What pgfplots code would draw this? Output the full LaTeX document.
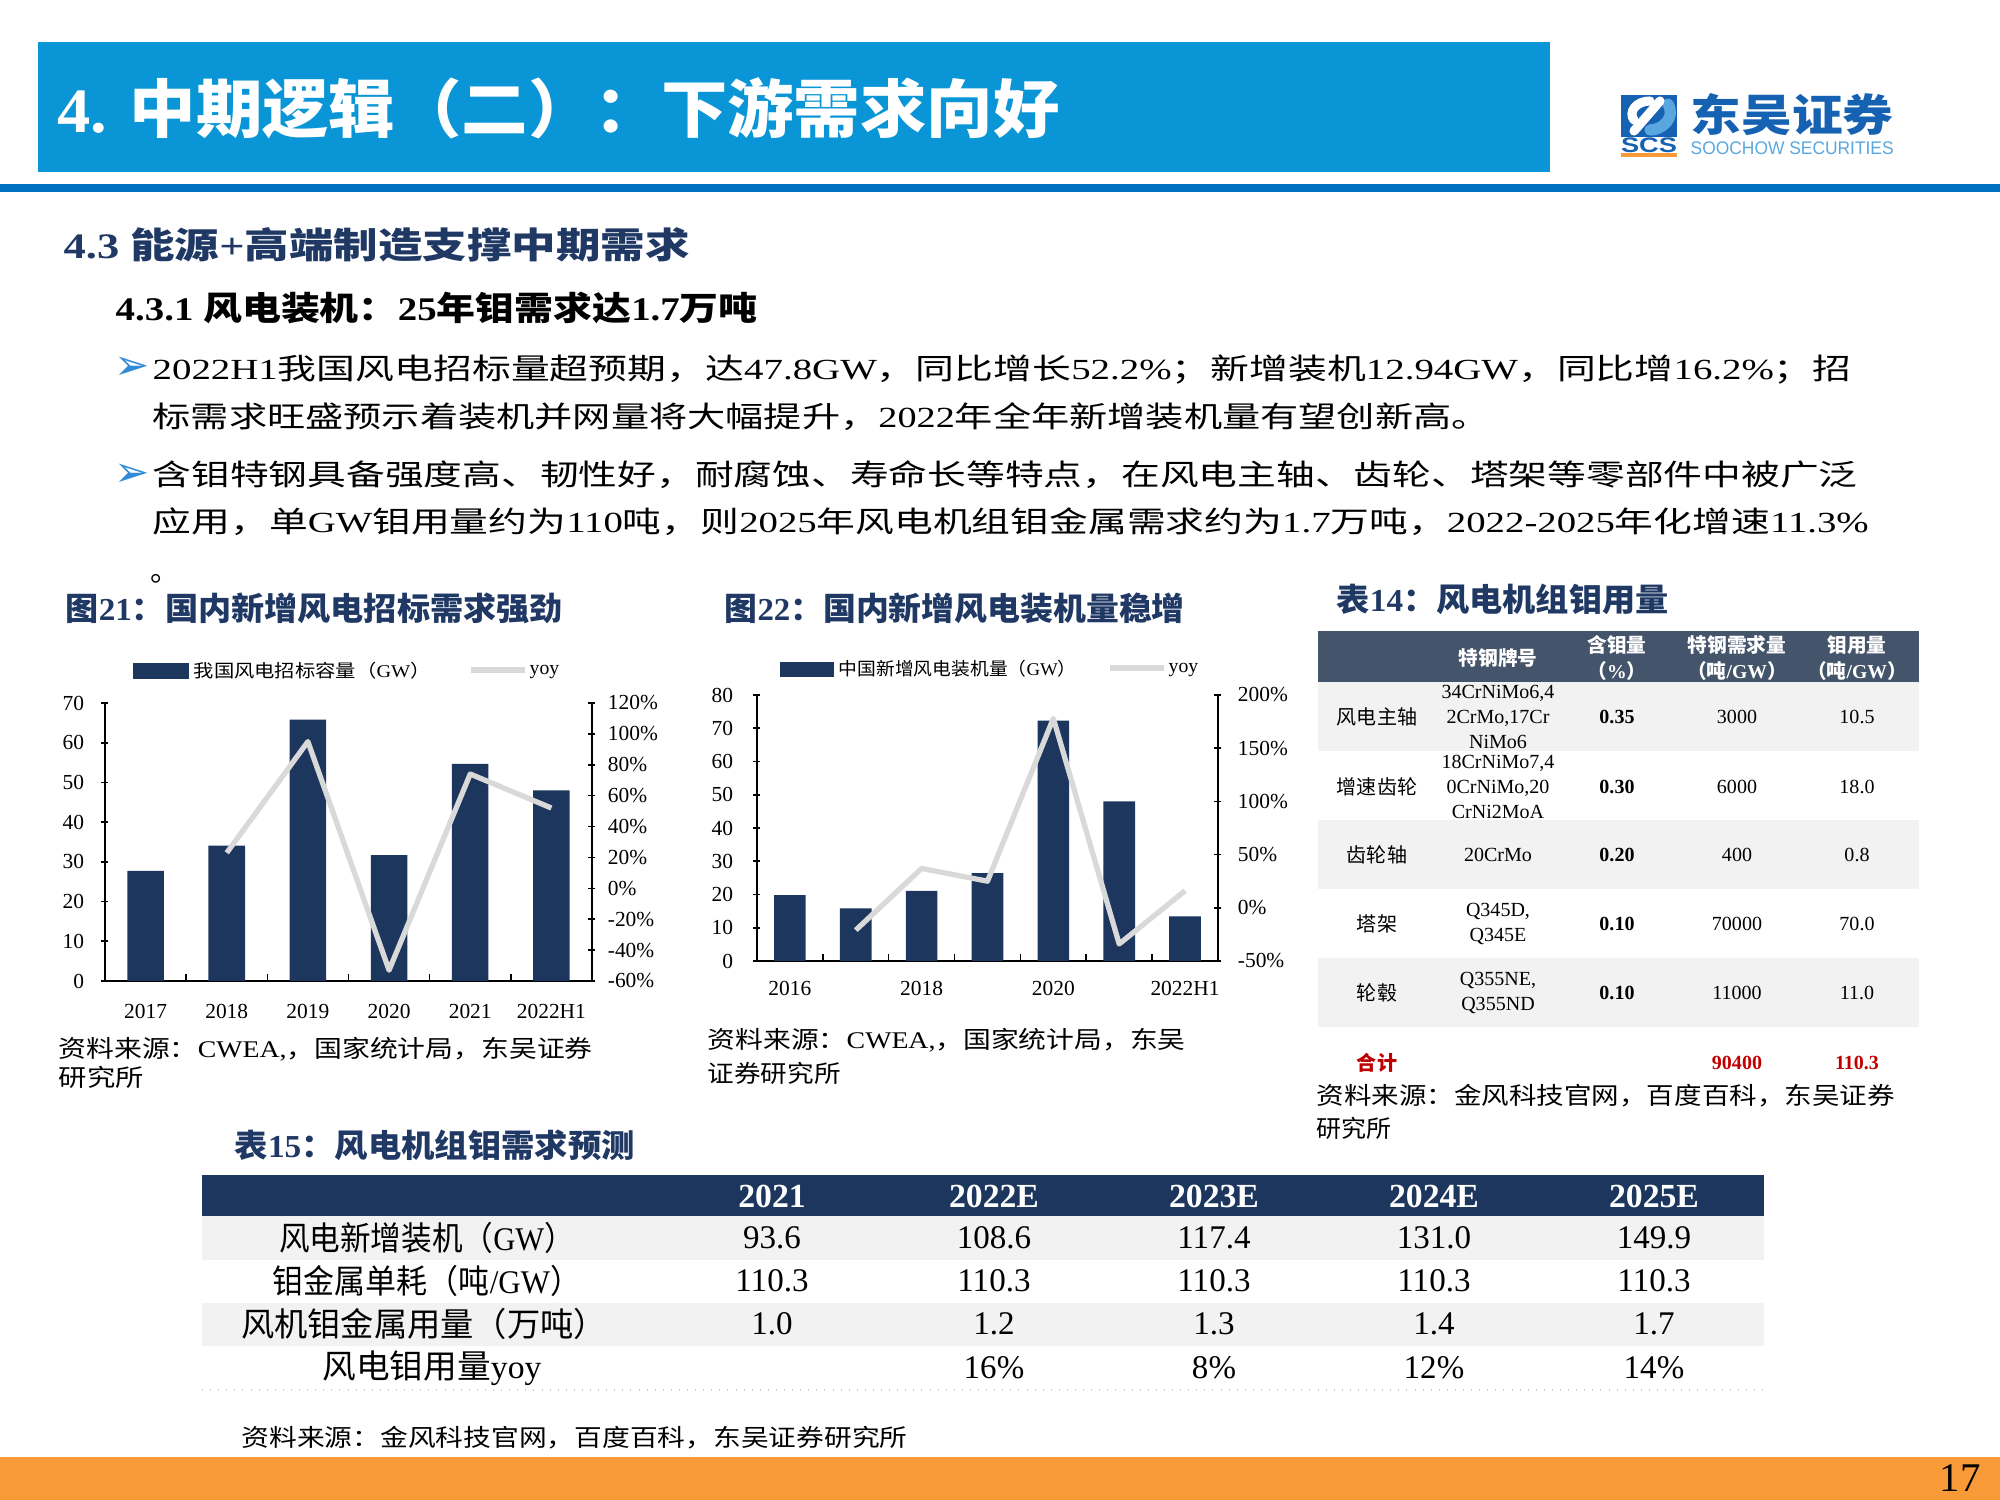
\documentclass[border=0pt]{standalone}
\usepackage{pgfplots}
\pgfplotsset{compat=1.18}
\usepackage{graphicx}
\usepackage{fontspec}
\setmainfont{Liberation Serif}
\newfontfamily\cjk{Noto Sans CJK SC}
\newfontfamily\dejavu{DejaVu Sans}
\newfontfamily\lsans{Liberation Sans}

\XeTeXinterchartokenstate=1
\newXeTeXintercharclass\CJKcls
\makeatletter
\def\setcjkrange#1#2{\count@=#1\relax
  \loop\XeTeXcharclass\count@=\CJKcls\relax
  \ifnum\count@<#2\relax\advance\count@ by 1\relax\repeat}
\makeatother
\setcjkrange{"3000}{"303F}
\setcjkrange{"4E00}{"9FFF}
\setcjkrange{"FF00}{"FFEF}
\XeTeXinterchartoks 0 \CJKcls = {\begingroup\cjk}
\XeTeXinterchartoks 4095 \CJKcls = {\begingroup\cjk}
\XeTeXinterchartoks \CJKcls 0 = {\endgroup}
\XeTeXinterchartoks \CJKcls 4095 = {\endgroup}

\definecolor{hdrblue}{HTML}{0A96D6}
\definecolor{lineblue}{HTML}{0070C0}
\definecolor{navytxt}{HTML}{1F3864}
\definecolor{navybar}{HTML}{1C365E}
\definecolor{yoygray}{HTML}{D9D9D9}
\definecolor{slate}{HTML}{44546A}
\definecolor{rowgray}{HTML}{F2F2F2}
\definecolor{redtxt}{HTML}{C00000}
\definecolor{orangebar}{HTML}{F99A38}
\definecolor{logoblue}{HTML}{1662B2}
\definecolor{logolight}{HTML}{5AA7E0}
\definecolor{arrowblue}{HTML}{2F8AD8}

\newcommand\fit[2]{\resizebox{#1}{\height}{#2}}

\pgfplotsset{
  mychart/.style={
    scale only axis,
    tick style={line width=0.45pt, black},
    tick align=outside, major tick length=0.7mm,
    tick label style={font=\fontsize{6.1}{7}\selectfont},
    /pgf/number format/assume math mode=true,
    clip=false,
  },
  noarrows/.style={
    axis line style={-, line width=0.45pt},
    every outer x axis line/.append style={-},
    every outer y axis line/.append style={-},
    every inner x axis line/.append style={-},
    every inner y axis line/.append style={-},
  }
}

\begin{document}
\begin{tikzpicture}
\begin{scope}[x=0.1mm,y=-0.1mm]
\path[use as bounding box,fill=white] (0,0) rectangle (2000,1500);
% ---------- header ----------
\fill[hdrblue] (38,42) rectangle (1550,172);
\fill[lineblue] (0,184) rectangle (2000,192);
\node[anchor=west,inner sep=0,text=white,font=\fontsize{18}{20}\selectfont\bfseries] at (57,108) {\fit{100.2mm}{4. 中期逻辑（二）：下游需求向好}};
% logo
\fill[logoblue] (1621,95) rectangle (1677,137);
\draw[logolight,line width=3.2pt,line cap=round] (1668,104) .. controls (1676,118) and (1662,130) .. (1650,130);
\draw[white,line width=2.6pt,line cap=round] (1660,101) -- (1634,131);
\draw[white,line width=2.6pt,line cap=round] (1650,101) .. controls (1636,101) and (1628,112) .. (1634,120);
\node[anchor=center,inner sep=0,text=logoblue,font=\lsans\fontsize{6}{7}\selectfont\bfseries] at (1649,145) {\fit{5.6mm}{SCS}};
\fill[orangebar] (1621,153) rectangle (1677,157);
\node[anchor=west,inner sep=0,text=logoblue,font=\fontsize{12.5}{14}\selectfont\bfseries] at (1690,115) {\fit{20.3mm}{东吴证券}};
\node[anchor=west,inner sep=0,text=logolight,font=\lsans\fontsize{5.2}{6}\selectfont] at (1690,148) {\fit{20.3mm}{SOOCHOW SECURITIES}};
% ---------- headings ----------
\node[anchor=west,inner sep=0,text=navytxt,font=\fontsize{10.2}{12}\selectfont\bfseries] at (63,245) {\fit{62.6mm}{4.3 能源+高端制造支撑中期需求}};
\node[anchor=west,inner sep=0,font=\fontsize{9.4}{11}\selectfont\bfseries] at (115,308) {\fit{64.2mm}{4.3.1 风电装机：25年钼需求达1.7万吨}};
% bullets
\node[inner sep=0,text=arrowblue,font=\dejavu\fontsize{12}{13}\selectfont] at (132,368) {➢};
\node[inner sep=0,text=arrowblue,font=\dejavu\fontsize{12}{13}\selectfont] at (132,475) {➢};
\begin{scope}[every node/.style={anchor=west,inner sep=0,font=\fontsize{8.3}{10}\selectfont}]
\node at (152,370) {\fit{169.9mm}{2022H1我国风电招标量超预期，达47.8GW，同比增长52.2\%；新增装机12.94GW，同比增16.2\%；招}};
\node at (152,417) {\fit{133.7mm}{标需求旺盛预示着装机并网量将大幅提升，2022年全年新增装机量有望创新高。}};
\node at (152,475) {\fit{170.5mm}{含钼特钢具备强度高、韧性好，耐腐蚀、寿命长等特点，在风电主轴、齿轮、塔架等零部件中被广泛}};
\node at (152,522) {\fit{171.6mm}{应用，单GW钼用量约为110吨，则2025年风电机组钼金属需求约为1.7万吨，2022-2025年化增速11.3\%}};
\node at (150,579) {。};
\end{scope}
% figure titles
\begin{scope}[every node/.style={anchor=west,inner sep=0,text=navytxt,font=\fontsize{9.1}{11}\selectfont\bfseries}]
\node at (65,608) {\fit{49.7mm}{图21：国内新增风电招标需求强劲}};
\node at (724,608) {\fit{46.0mm}{图22：国内新增风电装机量稳增}};
\node at (1336,599) {\fit{33.2mm}{表14：风电机组钼用量}};
\node at (234,1145) {\fit{40.0mm}{表15：风电机组钼需求预测}};
\end{scope}
% sources
\begin{scope}[every node/.style={anchor=west,inner sep=0,font=\fontsize{6.8}{8}\selectfont}]
\node at (58,1049) {\fit{53.4mm}{资料来源：CWEA,，国家统计局，东吴证券}};
\node at (58,1077) {\fit{8.5mm}{研究所}};
\node at (707,1040) {\fit{47.8mm}{资料来源：CWEA,，国家统计局，东吴}};
\node at (707,1073) {\fit{13.3mm}{证券研究所}};
\node at (1316,1096) {\fit{57.8mm}{资料来源：金风科技官网，百度百科，东吴证券}};
\node at (1316,1128) {\fit{7.5mm}{研究所}};
\node at (241,1438) {\fit{66.6mm}{资料来源：金风科技官网，百度百科，东吴证券研究所}};
\end{scope}
% legends
\fill[navybar] (133,663) rectangle (189,679);
\node[anchor=west,inner sep=0,font=\fontsize{5.1}{6}\selectfont] at (193,671) {\fit{23.7mm}{我国风电招标容量（GW）}};
\draw[yoygray,line width=1.5pt] (471,670) -- (525,670);
\node[anchor=west,inner sep=0,font=\fontsize{5.6}{6}\selectfont] at (529,672) {yoy};
\fill[navybar] (780,662) rectangle (834,677);
\node[anchor=west,inner sep=0,font=\fontsize{5.1}{6}\selectfont] at (838,669) {\fit{23.8mm}{中国新增风电装机量（GW）}};
\draw[yoygray,line width=1.5pt] (1110,668) -- (1164,668);
\node[anchor=west,inner sep=0,font=\fontsize{5.6}{6}\selectfont] at (1168,670) {yoy};
% ---------- table 14 ----------
\fill[slate] (1318,631) rectangle (1919,682);
\fill[rowgray] (1318,682) rectangle (1919,751);
\fill[rowgray] (1318,820) rectangle (1919,889);
\fill[rowgray] (1318,958) rectangle (1919,1027);
\begin{scope}[every node/.style={inner sep=0,align=center,text=white,font=\fontsize{5.6}{7.4}\selectfont\bfseries}]
\node at (1498,658) {特钢牌号};
\node at (1617,658) {含钼量\\（\%）};
\node at (1737,658) {特钢需求量\\（吨/GW）};
\node at (1857,658) {钼用量\\（吨/GW）};
\end{scope}
\begin{scope}[every node/.style={inner sep=0,align=center,font=\fontsize{5.7}{7.1}\selectfont}]
\node at (1377,717) {风电主轴};
\node at (1377,787) {增速齿轮};
\node at (1377,855) {齿轮轴};
\node at (1377,924) {塔架};
\node at (1377,993) {轮毂};
\node at (1498,717) {34CrNiMo6,4\\2CrMo,17Cr\\NiMo6};
\node at (1498,787) {18CrNiMo7,4\\0CrNiMo,20\\CrNi2MoA};
\node at (1498,855) {20CrMo};
\node at (1498,924) {Q345D,\\Q345E};
\node at (1498,993) {Q355NE,\\Q355ND};
\node[font=\fontsize{5.7}{7.1}\selectfont\bfseries] at (1617,717) {0.35};
\node[font=\fontsize{5.7}{7.1}\selectfont\bfseries] at (1617,787) {0.30};
\node[font=\fontsize{5.7}{7.1}\selectfont\bfseries] at (1617,855) {0.20};
\node[font=\fontsize{5.7}{7.1}\selectfont\bfseries] at (1617,924) {0.10};
\node[font=\fontsize{5.7}{7.1}\selectfont\bfseries] at (1617,993) {0.10};
\node at (1737,717) {3000};
\node at (1737,787) {6000};
\node at (1737,855) {400};
\node at (1737,924) {70000};
\node at (1737,993) {11000};
\node at (1857,717) {10.5};
\node at (1857,787) {18.0};
\node at (1857,855) {0.8};
\node at (1857,924) {70.0};
\node at (1857,993) {11.0};
\node[text=redtxt,font=\fontsize{5.7}{7.1}\selectfont\bfseries] at (1377,1063) {合计};
\node[text=redtxt,font=\fontsize{5.7}{7.1}\selectfont\bfseries] at (1737,1063) {90400};
\node[text=redtxt,font=\fontsize{5.7}{7.1}\selectfont\bfseries] at (1857,1063) {110.3};
\end{scope}
% ---------- table 15 ----------
\fill[navybar] (202,1175) rectangle (1764,1216);
\fill[rowgray] (202,1216) rectangle (1764,1260);
\fill[rowgray] (202,1303) rectangle (1764,1346);
\draw[gray!40,line width=0.3pt,dotted] (202,1390) -- (1764,1390);
\begin{scope}[every node/.style={inner sep=0,text=white,font=\fontsize{9.6}{11}\selectfont\bfseries}]
\node at (772,1196) {2021};
\node at (994,1196) {2022E};
\node at (1214,1196) {2023E};
\node at (1434,1196) {2024E};
\node at (1654,1196) {2025E};
\end{scope}
\begin{scope}[every node/.style={inner sep=0,font=\fontsize{9.4}{11}\selectfont}]
\node at (427,1238) {\fit{29.6mm}{风电新增装机（GW）}};
\node at (427,1281) {\fit{30.8mm}{钼金属单耗（吨/GW）}};
\node at (424,1324) {\fit{36.6mm}{风机钼金属用量（万吨）}};
\node at (432,1368) {\fit{21.9mm}{风电钼用量yoy}};
\node at (772,1238) {93.6};
\node at (994,1238) {108.6};
\node at (1214,1238) {117.4};
\node at (1434,1238) {131.0};
\node at (1654,1238) {149.9};
\node at (772,1281) {110.3};
\node at (994,1281) {110.3};
\node at (1214,1281) {110.3};
\node at (1434,1281) {110.3};
\node at (1654,1281) {110.3};
\node at (772,1324) {1.0};
\node at (994,1324) {1.2};
\node at (1214,1324) {1.3};
\node at (1434,1324) {1.4};
\node at (1654,1324) {1.7};
\node at (994,1368) {16\%};
\node at (1214,1368) {8\%};
\node at (1434,1368) {12\%};
\node at (1654,1368) {14\%};
\end{scope}
% ---------- footer ----------
\fill[orangebar] (0,1457) rectangle (2000,1500);
\node[inner sep=0,font=\fontsize{11.6}{13}\selectfont] at (1960,1478) {17};
\end{scope}

% ---------- chart 1 ----------
\begin{axis}[mychart,
  at={(10.5mm,-98.1mm)}, anchor=south west,
  width=48.7mm, height=27.8mm,
  xmin=-0.5, xmax=5.5, ymin=0, ymax=70,
  axis x line=bottom, axis y line=left, noarrows,
  xtick={0,...,5}, xticklabels={2017,2018,2019,2020,2021,2022H1},
  xtick style={draw=none},
  xticklabel style={yshift=-0.7mm},
  ytick={0,10,...,70},
  yticklabel style={xshift=-0.5mm},
]
\addplot[ybar, bar width=0.45, fill=navybar, draw=none] coordinates {(0,27.7) (1,34.1) (2,65.8) (3,31.7) (4,54.7) (5,48.0)};
\draw[line width=0.45pt] (axis cs:0.5,0) -- ++(0pt,0.7mm);
\draw[line width=0.45pt] (axis cs:1.5,0) -- ++(0pt,0.7mm);
\draw[line width=0.45pt] (axis cs:2.5,0) -- ++(0pt,0.7mm);
\draw[line width=0.45pt] (axis cs:3.5,0) -- ++(0pt,0.7mm);
\draw[line width=0.45pt] (axis cs:4.5,0) -- ++(0pt,0.7mm);
\end{axis}
\begin{axis}[mychart,
  at={(10.5mm,-98.1mm)}, anchor=south west,
  width=48.7mm, height=27.8mm,
  xmin=-0.5, xmax=5.5, ymin=-60, ymax=120,
  axis x line=none, axis y line=right, noarrows,
  ytick={-60,-40,...,120},
  yticklabel={\pgfmathprintnumber{\tick}\%},
  yticklabel style={xshift=0mm},
]
\addplot[yoygray, line width=1.5pt, mark=none, line join=round] coordinates {(1,23) (2,95) (3,-53) (4,74) (5,52)};
\end{axis}

% ---------- chart 2 ----------
\begin{axis}[mychart,
  at={(75.7mm,-96.1mm)}, anchor=south west,
  width=46.1mm, height=26.6mm,
  xmin=-0.5, xmax=6.5, ymin=0, ymax=80,
  axis x line=bottom, axis y line=left, noarrows,
  xtick={0,2,4,6}, xticklabels={2016,2018,2020,2022H1},
  xtick style={draw=none},
  xticklabel style={yshift=-0.4mm},
  ytick={0,10,...,80},
  yticklabel style={xshift=-0.8mm},
]
\addplot[ybar, bar width=0.48, fill=navybar, draw=none] coordinates {(0,19.8) (1,15.8) (2,21.1) (3,26.4) (4,72.3) (5,48.0) (6,13.4)};
\draw[line width=0.45pt] (axis cs:0.5,0) -- ++(0pt,0.7mm);
\draw[line width=0.45pt] (axis cs:1.5,0) -- ++(0pt,0.7mm);
\draw[line width=0.45pt] (axis cs:2.5,0) -- ++(0pt,0.7mm);
\draw[line width=0.45pt] (axis cs:3.5,0) -- ++(0pt,0.7mm);
\draw[line width=0.45pt] (axis cs:4.5,0) -- ++(0pt,0.7mm);
\draw[line width=0.45pt] (axis cs:5.5,0) -- ++(0pt,0.7mm);
\end{axis}
\begin{axis}[mychart,
  at={(75.7mm,-96.1mm)}, anchor=south west,
  width=46.1mm, height=26.6mm,
  xmin=-0.5, xmax=6.5, ymin=-50, ymax=200,
  axis x line=none, axis y line=right, noarrows,
  ytick={-50,0,...,200},
  yticklabel={\pgfmathprintnumber{\tick}\%},
  yticklabel style={xshift=0.4mm},
]
\addplot[yoygray, line width=1.5pt, mark=none, line join=round] coordinates {(1,-21) (2,37) (3,25) (4,178) (5,-34) (6,16)};
\end{axis}
\end{tikzpicture}
\end{document}
